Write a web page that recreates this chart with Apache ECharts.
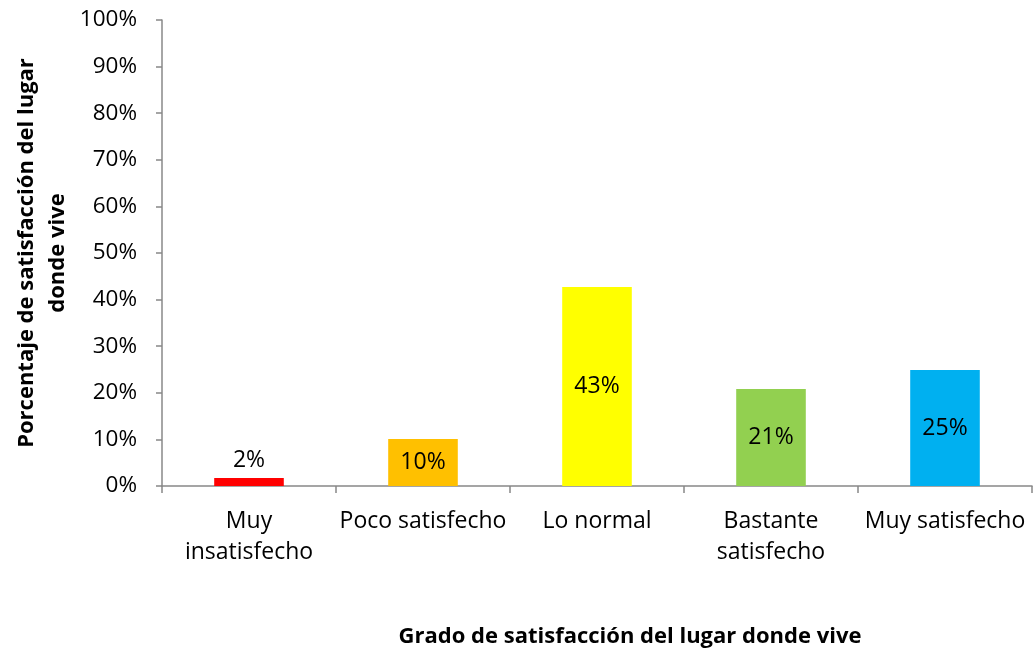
<!DOCTYPE html>
<html lang="es">
<head>
    <meta charset="utf-8">
    <style>
        html, body { margin: 0; width: 100%; height: 100%; background: #fff; overflow: hidden; }
        #main { width: 1033px; height: 650px; }
    </style>
</head>
<body>
<div id="main"></div>
<script src="https://cdn.jsdelivr.net/npm/echarts@6/dist/echarts.min.js"></script>
<script>
    var categories = ['Muy\ninsatisfecho', 'Poco satisfecho', 'Lo normal', 'Bastante\nsatisfecho', 'Muy satisfecho'];
    var values = [1.7, 10.1, 42.7, 20.8, 24.9];
    var colors = ['#ff0000', '#ffc000', '#ffff00', '#92d050', '#00b0f0'];
    var labelPos = ['top', 'inside', 'inside', 'inside', 'inside'];

    var font = '"Open Sans", "Liberation Sans", sans-serif';

    var chart = echarts.init(document.getElementById('main'));
    chart.setOption({
        animation: false,
        textStyle: { fontFamily: font },
        title: {
            text: 'Grado de satisfacción del lugar donde vive',
            left: 625,
            top: 621,
            textAlign: 'center',
            textStyle: { fontFamily: font, fontSize: 22, fontWeight: 'bold', color: '#000' }
        },
        grid: { left: 162, right: 1, top: 20, bottom: 164, containLabel: false, outerBoundsMode: 'none' },
        xAxis: {
            type: 'category',
            data: categories,
            axisLine: { lineStyle: { color: '#888', width: 1.5 } },
            axisTick: { show: true, length: 7, lineStyle: { color: '#888', width: 1.5 } },
            axisLabel: { color: '#000', fontSize: 23, fontFamily: font, margin: 20, lineHeight: 31, interval: 0 }
        },
        yAxis: {
            type: 'value',
            min: 0,
            max: 100,
            interval: 10,
            name: 'Porcentaje de satisfacción del lugar\ndonde vive',
            nameLocation: 'middle',
            nameGap: 89,
            nameMoveOverlap: false,
            nameRotate: 90,
            nameTextStyle: { fontFamily: font, fontSize: 22, fontWeight: 'bold', color: '#000', lineHeight: 31 },
            axisLine: { show: true, lineStyle: { color: '#888', width: 1.5 } },
            axisTick: { show: true, length: 6, lineStyle: { color: '#888', width: 1.5 } },
            splitLine: { show: false },
            axisLabel: { color: '#000', fontSize: 22.5, fontFamily: font, margin: 25, formatter: '{value}%' }
        },
        series: [{
            type: 'bar',
            barWidth: '40%',
            data: values.map(function (v, i) {
                return {
                    value: v,
                    itemStyle: { color: colors[i] },
                    label: { position: labelPos[i], distance: 6 }
                };
            }),
            label: {
                show: true,
                color: '#000',
                fontSize: 23,
                fontFamily: font,
                formatter: function (p) { return Math.round(p.value) + '%'; }
            }
        }]
    });
</script>
</body>
</html>
